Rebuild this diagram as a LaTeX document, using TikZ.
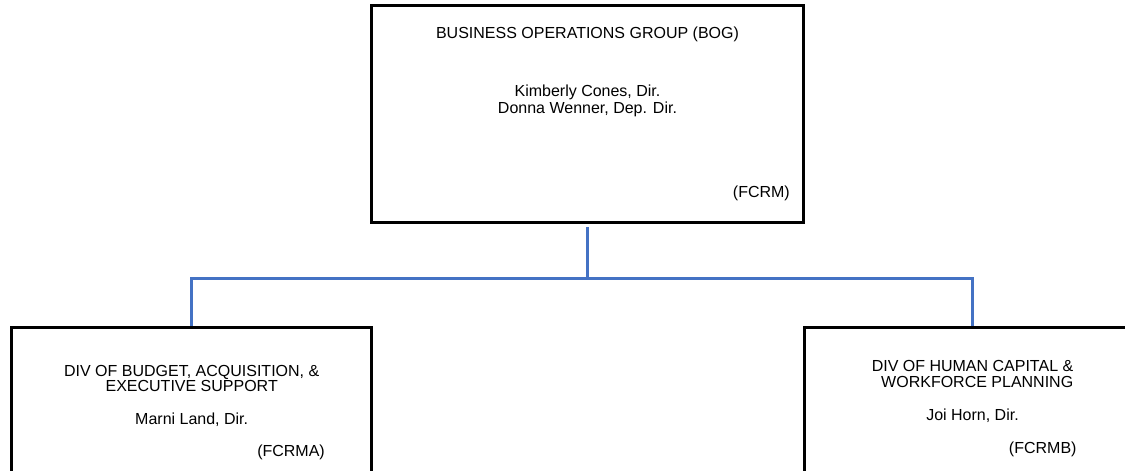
\documentclass[tikz,border=0pt]{standalone}
\usepackage{fontspec}
\setmainfont{Liberation Sans}
\usepackage{tikz}
\usetikzlibrary{positioning, calc}
\definecolor{linkblue}{HTML}{4472C4}

\begin{document}
\begin{tikzpicture}[x=1pt, y=-1pt,
    orgbox/.style={draw=black, line width=3pt, rectangle, inner sep=0pt},
    orgtext/.style={inner sep=0pt, font=\fontsize{16}{17}\selectfont},
    link/.style={draw=linkblue, line width=3pt}]
    \useasboundingbox (0,0) rectangle (1125,471);

    % boxes
    \node[orgbox, minimum width=432pt, minimum height=217pt] (bog) at (587.5,113.9) {};
    \node[orgbox, minimum width=360pt, minimum height=200pt] (bab) at (191.7,427.7) {};
    \node[orgbox, minimum width=336pt, minimum height=200pt] (hcw) at (972.3,427.7) {};

    % connectors
    \coordinate (hub) at (587.5,278.5);
    \draw[link, shorten <=3pt] (bog.south) -- (hub);
    \draw[link] (hub) -| (bab.north);
    \draw[link] (hub) -| (hcw.north);

    % top box texts
    \node[orgtext, anchor=base] (bogtitle) at (587.5,38.5) {BUSINESS OPERATIONS GROUP (BOG)};
    \node[orgtext, anchor=base] (bogdir) at (587.5,96.5) {Kimberly Cones, Dir.};
    \node[orgtext, anchor=base] (bogdep) at (587.5,113.5) {Donna Wenner, Dep. Dir.};
    \node[orgtext, anchor=base east] (bogcode) at (790,197) {(FCRM)};

    % left box texts
    \node[orgtext, anchor=north, align=center, font=\fontsize{16}{15.3}\selectfont] (babtitle) at (191.7,365.3)
        {DIV OF BUDGET, ACQUISITION, \&\\EXECUTIVE SUPPORT};
    \node[orgtext, anchor=base] (babdir) at (191.7,424) {Marni Land, Dir.};
    \node[orgtext, anchor=base east] (babcode) at (325,456.5) {(FCRMA)};

    % right box texts
    \node[orgtext, anchor=north, align=right, font=\fontsize{16}{16.3}\selectfont] (hcwtitle) at (972.5,360.2)
        {DIV OF HUMAN CAPITAL \&\\WORKFORCE PLANNING};
    \node[orgtext, anchor=base] (hcwdir) at (972.5,420.7) {Joi Horn, Dir.};
    \node[orgtext, anchor=base east] (hcwcode) at (1076.7,453) {(FCRMB)};
\end{tikzpicture}
\end{document}
